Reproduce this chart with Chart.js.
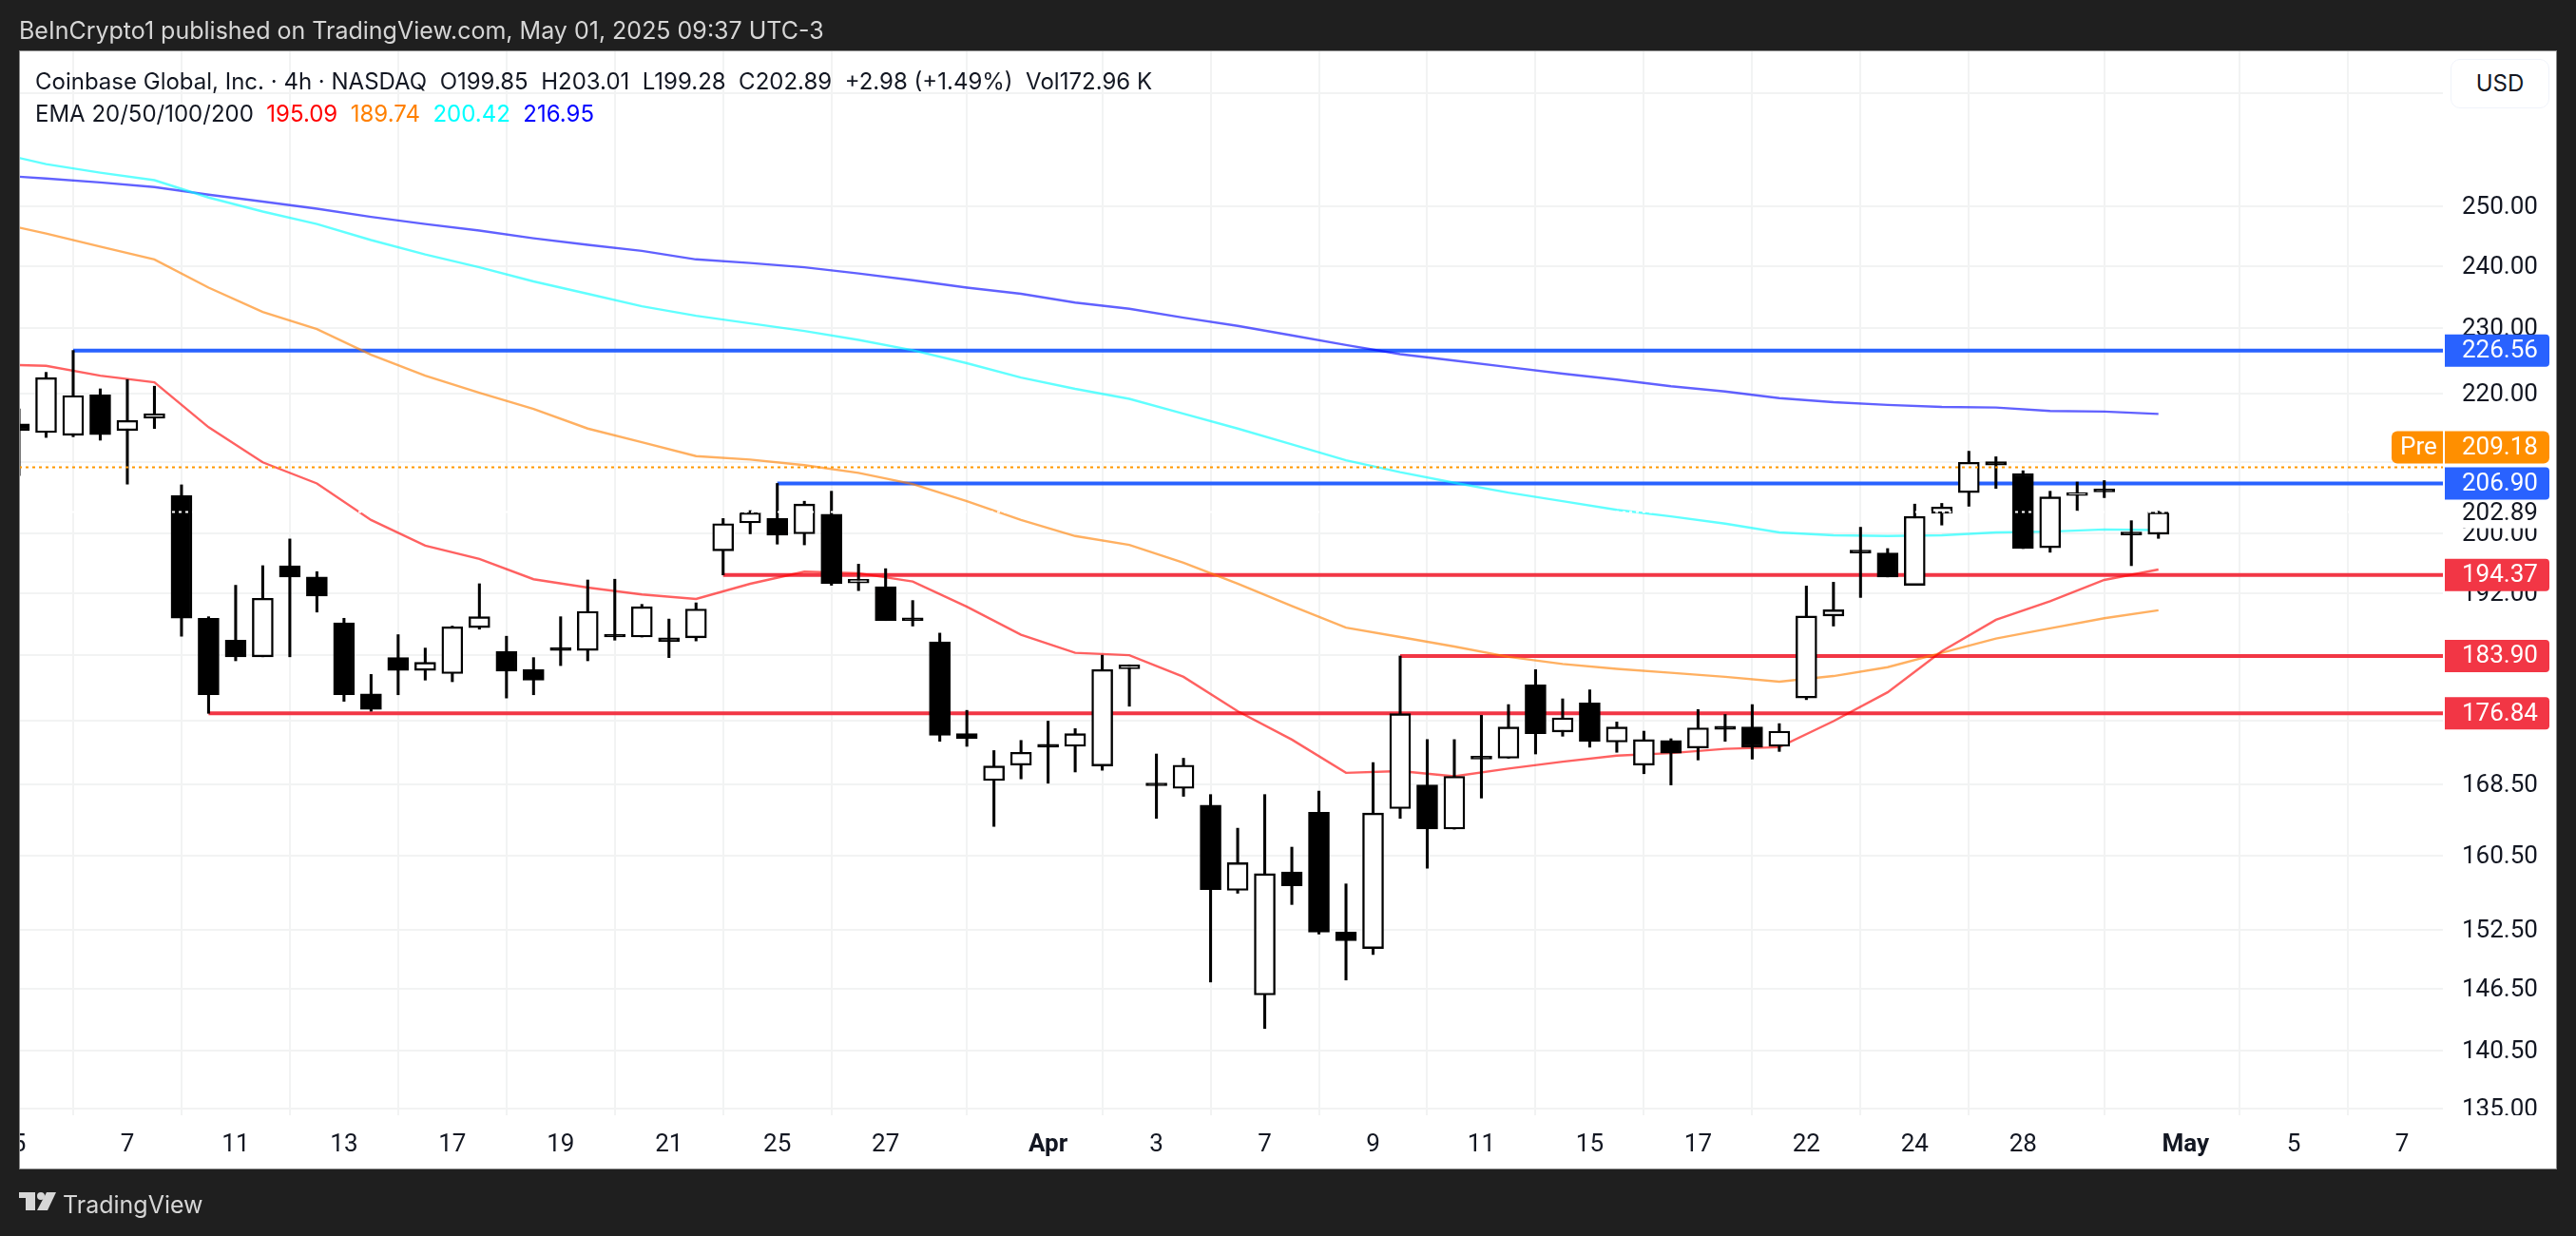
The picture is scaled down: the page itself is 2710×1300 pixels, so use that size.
<!DOCTYPE html>
<html>
<head>
<meta charset="utf-8">
<title>Coinbase Global, Inc. 4h</title>
<script src="https://cdn.jsdelivr.net/npm/chart.js@4"></script>
<style>
  html, body { margin: 0; padding: 0; background: #1f1f1f; }
  body { width: 2710px; height: 1300px; position: relative; overflow: hidden; font-family: Inter, Roboto, sans-serif; }
  #wrap { position: absolute; left: 0; top: 0; width: 2710px; height: 1300px; }
  .txt { position: absolute; white-space: pre; }
  #pub { left: 20px; top: 16px; font-size: 25px; line-height: 32px; color: #d6d6d6; }
  #logoText { left: 66px; top: 1250px; font-size: 25px; line-height: 34px; color: #d6d6d6; }
  #line1, #line2 { left: 37px; font-size: 24px; line-height: 32px; color: #131722; }
  #line1 { top: 70px; }
  #line2 { top: 104px; }
  #usd { left: 2578px; top: 62px; width: 102px; height: 50px; border: 1px solid #f0f3fa; border-radius: 10px;
         font-size: 24px; line-height: 50px; text-align: center; color: #131722; background: #fff; }
</style>
</head>
<body>
<div id="wrap"><canvas id="myChart" width="2710" height="1300"></canvas></div>
<div class="txt" id="pub">BeInCrypto1 published on TradingView.com, May 01, 2025 09:37 UTC-3</div>
<div class="txt" id="line1">Coinbase Global, Inc. · 4h · NASDAQ  O199.85  H203.01  L199.28  C202.89  +2.98 (+1.49%)  Vol172.96 K</div>
<div class="txt" id="line2">EMA 20/50/100/200  <span style="color:#ff0000">195.09</span>  <span style="color:#ff8000">189.74</span>  <span style="color:#00ffff">200.42</span>  <span style="color:#0000ff">216.95</span></div>
<div class="txt" id="usd">USD</div>
<div class="txt" id="logoText">TradingView</div>
<script>
// candles, one per 4h session bar, index 0 = Mar 5
var opens = [215.5,214.2,213.8,219.8,214.5,216.3,205.2,188.7,185.9,183.8,195.6,194.1,188.1,179.2,183.7,182.1,181.7,187.5,184.5,182.2,
  184.8,184.6,186.5,186.3,186.2,186.2,197.6,201.4,202.0,199.9,202.6,193.3,192.8,188.6,185.7,174.4,168.9,170.7,173.0,172.9,
  170.6,182.3,168.5,168.0,166.1,156.7,145.9,158.7,165.3,152.3,150.6,165.7,168.4,163.4,171.6,171.5,180.3,174.6,178.1,173.4,
  170.7,173.6,172.7,175.3,175.2,172.9,178.7,189.0,197.5,197.3,193.0,202.7,205.6,210.0,208.3,198.0,205.2,206.1,199.95,199.85];
var highs = [217.7,223.2,226.56,220.7,222.1,221.1,206.7,188.9,193.0,195.6,199.2,194.8,188.7,181.6,186.6,184.9,187.7,193.2,186.4,183.7,
  188.9,193.7,193.8,190.5,188.6,190.7,202.0,203.1,206.9,204.4,205.8,195.8,195.2,191.0,186.8,177.2,172.4,173.6,175.9,175.0,
  184.0,182.8,172.0,171.5,167.3,163.5,167.3,161.4,167.7,157.4,171.0,183.9,173.7,173.7,176.6,177.9,182.2,178.6,179.7,175.8,
  174.7,173.8,177.3,176.7,177.9,175.6,192.9,193.4,200.8,197.9,204.0,204.1,211.5,210.7,208.7,205.8,207.1,207.3,201.7,203.01];
var lows = [208.0,213.5,213.6,213.1,206.8,214.8,186.4,176.84,183.3,183.8,183.8,189.5,178.3,177.1,179.1,180.9,180.7,187.3,178.7,179.1,
  182.7,183.3,185.9,186.3,183.7,185.8,194.37,199.9,198.5,198.4,193.0,192.3,188.4,187.7,173.5,172.9,163.7,169.1,168.6,169.9,
  170.1,177.7,164.6,167.1,147.2,156.4,142.6,155.2,152.1,147.4,150.0,164.6,159.1,163.4,166.9,171.5,172.0,174.1,172.8,172.2,
  169.7,168.4,171.3,173.5,171.4,172.3,178.5,187.7,191.4,194.1,193.0,201.1,203.7,206.2,197.9,197.4,203.1,204.9,195.6,199.28];
var closes = [214.5,222.4,219.7,213.9,216.0,217.0,188.7,179.1,183.8,191.3,194.1,191.6,179.1,177.3,182.1,183.1,187.6,188.9,182.0,180.9,
  184.6,189.6,186.3,190.2,185.7,189.9,201.3,202.8,199.7,204.0,193.2,193.8,188.4,188.4,174.2,173.8,170.6,172.2,172.8,174.4,
  182.2,182.8,168.3,170.7,156.8,159.7,158.5,157.2,152.3,151.4,165.2,176.8,163.4,169.4,171.4,175.2,174.4,176.3,173.5,175.2,
  173.7,172.1,175.1,174.9,172.8,174.7,189.0,189.8,197.3,194.1,202.3,203.6,209.9,209.5,197.9,205.0,205.6,205.7,199.75,202.89];

// moving averages, read at the session-close bars
var emaIdx = [0,1,3,5,7,9,11,13,15,17,19,21,23,25,27,29,31,33,35,37,39,41,43,45,47,49,51,53,55,57,59,61,63,65,67,69,71,73,75,77,79];
var ema20 = [224.3,224.2,222.7,221.7,215.0,209.9,206.9,201.8,198.3,196.5,193.8,192.7,191.8,191.2,193.2,194.8,194.6,193.5,190.2,186.6,184.3,
  184.0,181.3,177.1,173.7,169.8,170.0,169.4,170.3,171.1,171.8,172.1,172.6,172.8,175.9,179.4,184.5,188.5,190.9,193.7,195.09];
var ema50 = [246.4,245.4,243.2,241.1,236.5,232.6,229.9,225.9,222.7,220.1,217.7,214.8,212.8,210.8,210.3,209.5,208.4,206.8,204.4,201.8,199.6,
  198.4,196.0,193.2,190.3,187.5,186.3,185.1,183.8,182.9,182.3,181.8,181.3,180.7,181.4,182.5,184.3,186.1,187.4,188.7,189.74];
var ema100 = [258.4,257.3,255.8,254.5,251.5,249.1,247.0,244.3,241.9,239.8,237.5,235.5,233.5,232.0,230.8,229.6,228.2,226.6,224.6,222.4,220.7,
  219.2,217.0,214.8,212.5,210.2,208.5,207.0,205.6,204.4,203.2,202.3,201.3,200.1,199.7,199.6,199.7,200.1,200.2,200.5,200.42];
var ema200 = [255.1,254.8,254.1,253.3,252.0,250.8,249.6,248.2,247.0,245.9,244.6,243.5,242.5,241.1,240.5,239.8,238.8,237.7,236.5,235.5,234.1,
  233.1,231.7,230.4,228.9,227.4,226.0,225.0,224.0,223.0,222.1,221.1,220.3,219.3,218.7,218.3,218.0,217.9,217.4,217.3,216.95];

// support / resistance levels and the bar each one starts from
var levels = [226.56,206.90,194.37,183.90,176.84];
var levelStart = [2,28,26,51,7];
var levelColor = ['#2962ff','#2962ff','#f23645','#f23645','#f23645'];
var prePrice = 209.18;
var lastPrice = 202.89;

// axis ticks
var xTickIdx = [0,4,8,12,16,20,24,28,32,38,42,46,50,54,58,62,66,70,74,80,84,88];
var xTickLabels = ['5','7','11','13','17','19','21','25','27','Apr','3','7','9','11','15','17','22','24','28','May','5','7'];
var yTicks = [270,250,240,230,220,210,200,192,184,176,168.5,160.5,152.5,146.5,140.5,135];
var yHidden = [270,210,184,176];

var X_MAX = 89.505;

function pts(idx, vals) {
  return vals.map(function (v, k) { return { x: idx[k], y: v }; });
}
var allIdx = opens.map(function (o, i) { return i; });

var wicks = allIdx.map(function (i) { return { x: i, y: [lows[i], highs[i]] }; });
var bodies = allIdx.map(function (i) { return { x: i, y: [Math.min(opens[i], closes[i]), Math.max(opens[i], closes[i])] }; });
var bodyColors = allIdx.map(function (i) { return closes[i] >= opens[i] ? '#ffffff' : '#000000'; });

var datasets = [
  { type: 'line', data: [{ x: 0, y: prePrice }, { x: X_MAX, y: prePrice }], borderColor: '#ff9800', borderWidth: 2, borderDash: [3, 4], pointRadius: 0, order: 0 },
  { type: 'line', data: [{ x: 0, y: lastPrice }, { x: X_MAX, y: lastPrice }], borderColor: '#ffffff', borderWidth: 2, borderDash: [3, 4], pointRadius: 0, order: 0 },
  { type: 'bar', data: bodies, backgroundColor: bodyColors, borderColor: '#000000', borderWidth: 2.4, borderSkipped: false, barThickness: 22, minBarLength: 3, grouped: false, order: 1 },
  { type: 'bar', data: wicks, backgroundColor: '#000000', borderWidth: 0, barThickness: 2.4, grouped: false, order: 2 },
  { type: 'line', data: pts(emaIdx, ema20), borderColor: 'rgba(255,0,0,0.62)', borderWidth: 2.4, pointRadius: 0, tension: 0, order: 3 },
  { type: 'line', data: pts(emaIdx, ema50), borderColor: 'rgba(255,128,0,0.62)', borderWidth: 2.4, pointRadius: 0, tension: 0, order: 3 },
  { type: 'line', data: pts(emaIdx, ema100), borderColor: 'rgba(0,255,255,0.62)', borderWidth: 2.4, pointRadius: 0, tension: 0, order: 3 },
  { type: 'line', data: pts(emaIdx, ema200), borderColor: 'rgba(0,0,255,0.62)', borderWidth: 2.4, pointRadius: 0, tension: 0, order: 3 }
];
levels.forEach(function (lv, k) {
  datasets.push({ type: 'line', data: [{ x: levelStart[k], y: lv }, { x: X_MAX, y: lv }], borderColor: levelColor[k], borderWidth: 4, pointRadius: 0, order: 4 });
});

function tag(ctx, x, y, w, h, color, text, textX, rl, rr) {
  ctx.fillStyle = color;
  ctx.beginPath();
  ctx.roundRect(x, y - h / 2, w, h, [rl, rr, rr, rl]);
  ctx.fill();
  ctx.fillStyle = '#ffffff';
  ctx.fillText(text, textX, y + 1);
}

var panelPlugin = {
  id: 'panel',
  beforeDraw: function (chart) {
    var ctx = chart.ctx;
    ctx.save();
    ctx.fillStyle = '#8a8a8a';
    ctx.fillRect(20, 53, 2670, 1177);
    ctx.fillStyle = '#ffffff';
    ctx.fillRect(21, 54, 2668, 1175);
    ctx.restore();
  },
  afterDraw: function (chart) {
    var ctx = chart.ctx;
    var y = chart.scales.y;
    ctx.save();
    // left margin over the clipped first date label and first grid line
    ctx.fillStyle = '#1f1f1f';
    ctx.fillRect(0, 54, 20, 1246);
    ctx.fillStyle = '#8a8a8a';
    ctx.fillRect(20, 54, 1, 1176);
    // price axis bottom edge cuts the lowest label
    ctx.fillStyle = '#ffffff';
    ctx.fillRect(2571, 1173, 117, 50);

    ctx.font = '26px Roboto';
    ctx.textBaseline = 'middle';
    ctx.textAlign = 'left';
    // last price plate
    var lastY = y.getPixelForValue(lastPrice);
    ctx.fillStyle = '#ffffff';
    ctx.fillRect(2572, lastY - 17, 110, 34);
    ctx.fillStyle = '#131722';
    ctx.fillText(lastPrice.toFixed(2), 2590, lastY + 2);

    levels.forEach(function (lv, k) {
      tag(ctx, 2572, y.getPixelForValue(lv), 110, 34, levelColor[k], lv.toFixed(2), 2590, 0, 4);
    });
    // pre-market plate sits just above the 206.90 plate
    var preY = y.getPixelForValue(levels[1]) - 38;
    tag(ctx, 2572, preY, 110, 34, '#ff8f00', prePrice.toFixed(2), 2590, 0, 6);
    tag(ctx, 2516, preY, 54, 34, '#ff8f00', 'Pre', 2525, 6, 0);

    // logo mark
    ctx.fillStyle = '#d6d6d6';
    ctx.fillRect(20, 1254, 17, 6);
    ctx.fillRect(27, 1254, 10, 19);
    ctx.beginPath();
    ctx.arc(43, 1258, 4, 0, Math.PI * 2);
    ctx.fill();
    ctx.beginPath();
    ctx.moveTo(49, 1254);
    ctx.lineTo(59, 1254);
    ctx.lineTo(50, 1273);
    ctx.lineTo(39, 1273);
    ctx.closePath();
    ctx.fill();
    ctx.restore();
  }
};

var config = {
  data: { datasets: datasets },
  options: {
    responsive: false,
    animation: false,
    devicePixelRatio: 1,
    layout: { padding: { left: 20, top: 54, right: 21, bottom: 71 } },
    plugins: { legend: { display: false }, tooltip: { enabled: false } },
    scales: {
      x: {
        type: 'linear',
        min: 0,
        max: X_MAX,
        offset: false,
        afterBuildTicks: function (scale) {
          scale.ticks = xTickIdx.map(function (v) { return { value: v }; });
        },
        afterFit: function (scale) {
          scale.height = 56;
          scale.paddingLeft = 0;
          scale.paddingRight = 0;
        },
        grid: { color: '#f2f3f3', lineWidth: 2, drawTicks: false },
        border: { display: false },
        ticks: {
          autoSkip: false,
          maxRotation: 0,
          padding: 16,
          color: '#131722',
          font: function (c) {
            var lab = c.tick ? c.tick.label : '';
            return { family: 'Roboto', size: 26, weight: (lab === 'Apr' || lab === 'May') ? 'bold' : 'normal' };
          },
          callback: function (v) { return xTickLabels[xTickIdx.indexOf(v)]; }
        }
      },
      y: {
        type: 'logarithmic',
        position: 'right',
        min: 134.4,
        max: 277.9,
        afterBuildTicks: function (scale) {
          scale.ticks = yTicks.map(function (v) { return { value: v }; });
        },
        afterFit: function (scale) {
          scale.width = 119;
          scale.paddingTop = 0;
          scale.paddingBottom = 0;
        },
        grid: { color: '#f2f3f3', lineWidth: 2, drawTicks: false },
        border: { display: false },
        ticks: {
          autoSkip: false,
          padding: 20,
          labelOffset: 1.5,
          color: '#131722',
          font: { family: 'Roboto', size: 26 },
          callback: function (v) { return yHidden.indexOf(v) >= 0 ? '' : v.toFixed(2); }
        }
      }
    }
  },
  plugins: [panelPlugin]
};

var myChart = new Chart(document.getElementById('myChart'), config);
</script>
</body>
</html>
